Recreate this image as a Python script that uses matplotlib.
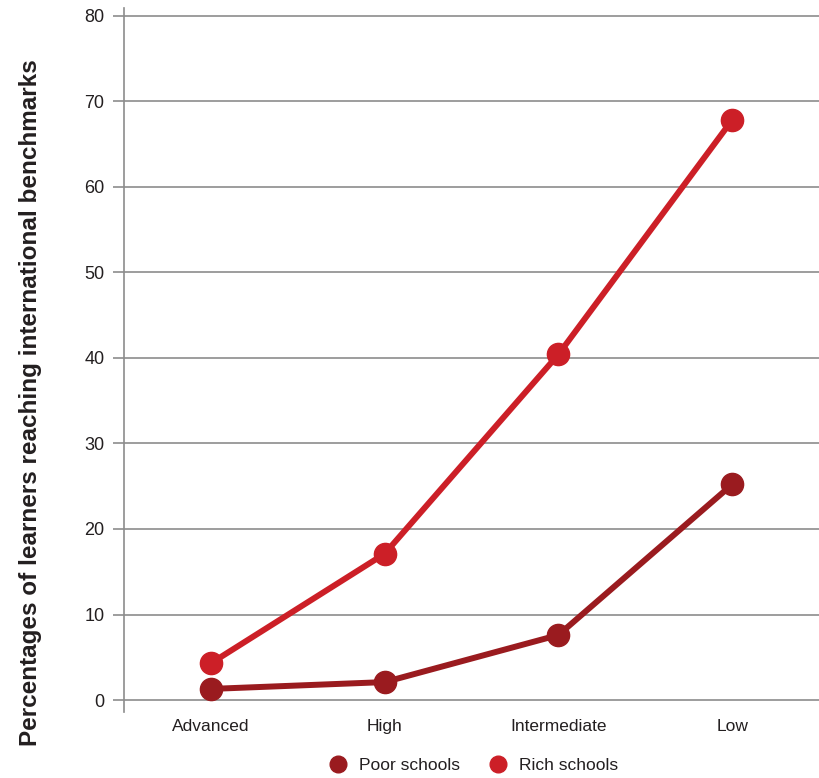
import matplotlib
matplotlib.use("Agg")
import matplotlib.pyplot as plt
from matplotlib.lines import Line2D

plt.rcParams['font.family'] = ['Liberation Sans', 'DejaVu Sans']

levels = ['Advanced', 'High', 'Intermediate', 'Low']
poor = [1.3, 2.1, 7.6, 25.2]
rich = [4.3, 17.1, 40.4, 67.8]
yticks = [0, 10, 20, 30, 40, 50, 60, 70, 80]

poor_col = '#9a1b1f'
rich_col = '#cc1f27'
grid_col = '#8c8c8c'

fig = plt.figure(figsize=(8.19, 7.78), dpi=100)
ax = fig.add_axes([0.1514, 0.0848, 0.8486, 0.9049])

x = range(len(levels))
ax.plot(x, poor, color=poor_col, lw=4.3, marker='o', ms=16, solid_capstyle='round', zorder=3)
ax.plot(x, rich, color=rich_col, lw=4.3, marker='o', ms=16, solid_capstyle='round', zorder=4)

ax.set_xlim(-0.5, 3.5)
ax.set_ylim(-1.4, 80.9)
ax.set_yticks(yticks)
ax.set_xticks(list(x))
ax.set_xticklabels(levels, fontsize=12.5, color='#231f20')
ax.set_yticklabels([str(v) for v in yticks], fontsize=13, color='#231f20')
ax.tick_params(axis='x', length=0, pad=5)
ax.tick_params(axis='y', length=8, width=1.2, color=grid_col, pad=6)
ax.yaxis.grid(True, color=grid_col, lw=1.2)
ax.set_axisbelow(True)
for s in ['top', 'right', 'bottom']:
    ax.spines[s].set_visible(False)
ax.spines['left'].set_color(grid_col)
ax.spines['left'].set_linewidth(1.2)

fig.text(0.037, 0.483, 'Percentages of learners reaching international benchmarks',
         rotation=90, ha='center', va='center', fontsize=17.5,
         fontweight='bold', color='#231f20')

handles = [Line2D([], [], ls='none', marker='o', ms=12, color=poor_col),
           Line2D([], [], ls='none', marker='o', ms=12, color=rich_col)]
fig.legend(handles, ['Poor schools', 'Rich schools'], loc='center',
           bbox_to_anchor=(0.573, 0.016), ncol=2, frameon=False, fontsize=12.5,
           handletextpad=0.2, columnspacing=1.2, labelcolor='#231f20')

fig.savefig('out.png', dpi=100)
